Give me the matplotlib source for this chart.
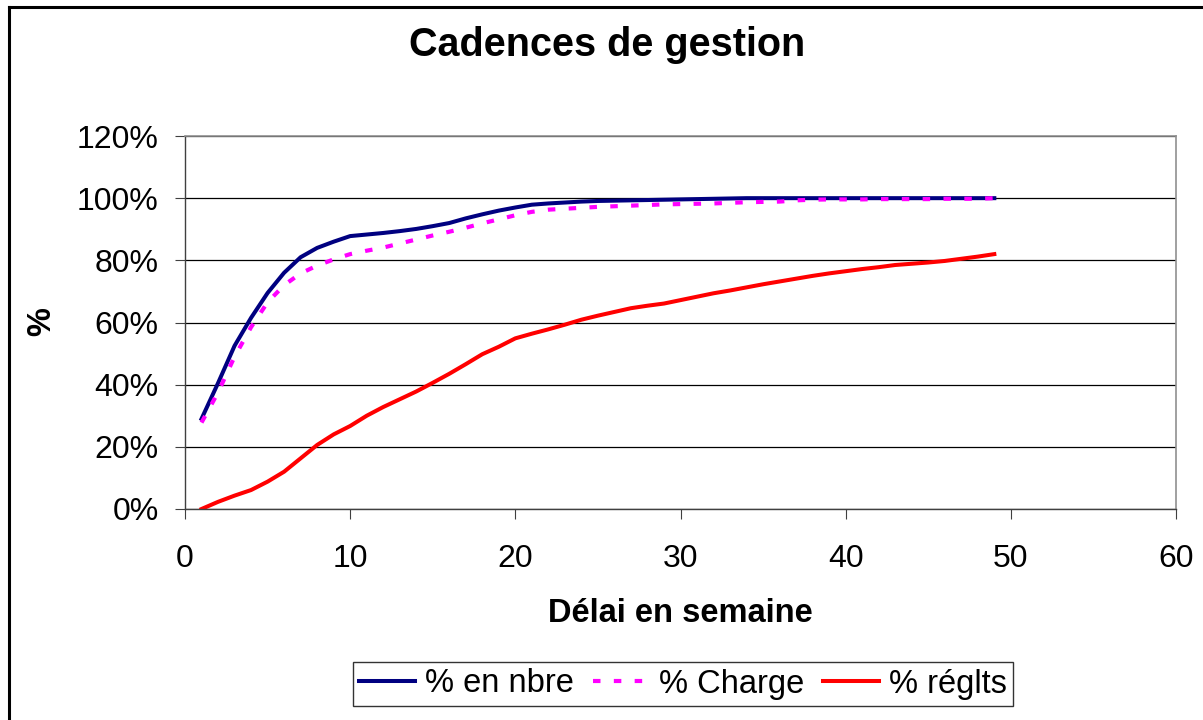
import matplotlib.pyplot as plt
from matplotlib.ticker import FuncFormatter
from matplotlib.lines import Line2D

plt.rcParams["font.family"] = ["Liberation Sans", "DejaVu Sans"]

# -----------------------------
# Data
# -----------------------------
weeks = list(range(1, 50))

pct_nbre = [29.0, 40.5, 52.5, 61.5, 69.5, 76.0, 81.0, 84.0, 86.0, 87.8,
            88.3, 88.8, 89.4, 90.1, 91.0, 92.0, 93.5, 94.8, 96.0, 97.0,
            97.9, 98.3, 98.6, 98.9, 99.1, 99.2, 99.3, 99.4, 99.5, 99.6,
            99.7, 99.8, 99.9, 100.0, 100.0, 100.0, 100.0, 100.0, 100.0, 100.0,
            100.0, 100.0, 100.0, 100.0, 100.0, 100.0, 100.0, 100.0, 100.0]

pct_charge = [27.8, 37.5, 49.0, 58.5, 66.5, 72.0, 75.8, 78.3, 80.3, 82.0,
              83.1, 84.1, 85.4, 86.7, 88.0, 89.2, 90.5, 91.9, 93.2, 94.5,
              95.6, 96.3, 96.6, 96.9, 97.2, 97.4, 97.6, 97.8, 98.0, 98.1,
              98.2, 98.3, 98.5, 98.7, 98.8, 98.9, 99.3, 99.5, 99.6, 99.6,
              99.6, 99.7, 99.7, 99.7, 99.7, 99.8, 99.8, 99.8, 100.0]

pct_reglts = [0.0, 2.3, 4.3, 6.1, 8.8, 12.0, 16.3, 20.6, 24.0, 26.7,
              30.0, 32.8, 35.3, 37.8, 40.6, 43.5, 46.6, 49.8, 52.2, 54.9,
              56.4, 57.8, 59.3, 60.9, 62.2, 63.4, 64.6, 65.4, 66.1, 67.2,
              68.3, 69.4, 70.3, 71.3, 72.3, 73.2, 74.1, 75.0, 75.8, 76.5,
              77.2, 77.8, 78.5, 78.9, 79.3, 79.8, 80.5, 81.2, 82.0]

x_ticks = [0, 10, 20, 30, 40, 50, 60]
y_ticks = [0, 20, 40, 60, 80, 100, 120]

title = "Cadences de gestion"
x_label = "Délai en semaine"
y_label = "%"
labels = ["% en nbre", "% Charge", "% réglts"]


def main():
    fig = plt.figure(figsize=(12.03, 7.2), dpi=100)
    ax = fig.add_axes([185 / 1203, 1 - 509 / 720, 991 / 1203, 373 / 720])

    # outer chart frame (only top/left edges fall inside the picture)
    fig.add_artist(Line2D([9 / 1203, 9 / 1203], [0, 1 - 7 / 720],
                          transform=fig.transFigure, color="black", lw=2.2))
    fig.add_artist(Line2D([9 / 1203, 1.0], [1 - 7 / 720, 1 - 7 / 720],
                          transform=fig.transFigure, color="black", lw=2.2))

    ax.plot(weeks, pct_nbre, color="#000080", lw=2.9, label=labels[0])
    ax.plot(weeks, pct_charge, color="#FF00FF", lw=3.0, dashes=(1.8, 3.2),
            label=labels[1])
    ax.plot(weeks, pct_reglts, color="#FF0000", lw=2.9, label=labels[2])

    ax.set_xlim(0, 60)
    ax.set_ylim(0, 120)
    ax.set_xticks(x_ticks)
    ax.set_yticks(y_ticks)
    ax.yaxis.set_major_formatter(FuncFormatter(lambda v, p: f"{v:.0f}%"))

    ax.grid(axis="y", color="black", lw=0.9)
    ax.set_axisbelow(True)

    for side in ("top", "right"):
        ax.spines[side].set_color("#909090")
        ax.spines[side].set_linewidth(1.2)
    for side in ("left", "bottom"):
        ax.spines[side].set_color("#404040")
        ax.spines[side].set_linewidth(1.0)

    ax.tick_params(axis="both", direction="out", length=7, width=0.8,
                   color="#404040", labelsize=23)
    ax.tick_params(axis="y", pad=12)
    ax.tick_params(axis="x", pad=18)

    fig.text(607 / 1203, 1 - 45 / 720, title, ha="center", va="center",
             fontsize=28.5, fontweight="bold")
    fig.text(680 / 1203, 1 - 613 / 720, x_label, ha="center", va="center",
             fontsize=23.5, fontweight="bold")
    fig.text(42 / 1203, 1 - 322 / 720, y_label, ha="center", va="center",
             fontsize=23.5, fontweight="bold", rotation=90)

    leg = fig.legend(loc="center", bbox_to_anchor=(683 / 1203, 1 - 684 / 720),
                     ncol=3, fontsize=23.5, frameon=True, fancybox=False,
                     handlelength=1.7, handletextpad=0.3, columnspacing=0.6,
                     borderpad=0.2, borderaxespad=0)
    leg.get_frame().set_edgecolor("black")
    leg.get_frame().set_linewidth(1.0)

    fig.savefig("out.png", dpi=100)
    plt.close(fig)


if __name__ == "__main__":
    main()
